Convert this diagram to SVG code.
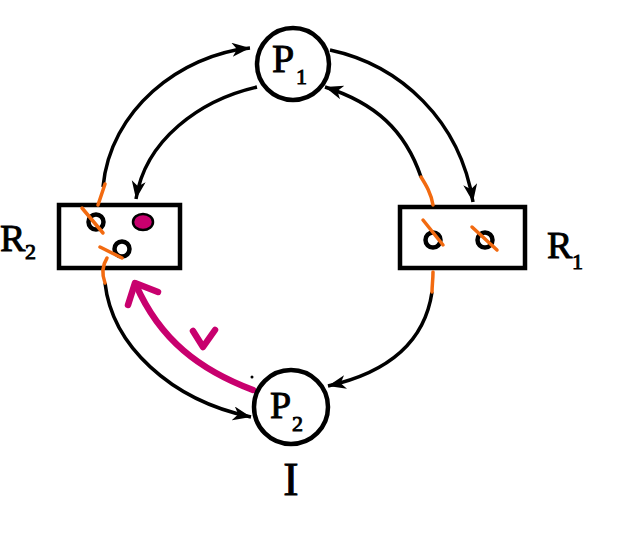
<svg xmlns="http://www.w3.org/2000/svg" width="618" height="538" viewBox="0 0 618 538">
<style>
.node{fill:#fff;stroke:#000;stroke-width:4.5}
.res{fill:none;stroke:#000;stroke-width:4.5}
.arc{fill:none;stroke:#000;stroke-width:3.5}
.or{fill:none;stroke:#F26A10;stroke-width:3.5;stroke-linecap:round}
.mg{fill:none;stroke:#C8006E;stroke-width:6.5;stroke-linecap:round;stroke-linejoin:round}
.lbl{font-family:"Liberation Serif","Times New Roman",serif;fill:#000;stroke:#000;stroke-width:0.9}
</style>
<defs>
<marker id="ah" markerUnits="userSpaceOnUse" markerWidth="20" markerHeight="16" refX="18" refY="7" orient="auto">
<path d="M0,0 L18,7 L0,14 L5,7 z" fill="#000"/>
</marker>
</defs>
<rect width="618" height="538" fill="#fff"/>
<g id="connectors">
<path class="arc" d="M103,187 C110,110 180,55 250,48" marker-end="url(#ah)"/>
<path class="arc" d="M257,87 C200,100 145,140 136,199" marker-end="url(#ah)"/>
<path class="arc" d="M330,50 C400,65 460,120 473,202" marker-end="url(#ah)"/>
<path class="arc" d="M421,177 C405,130 375,103 325,87" marker-end="url(#ah)"/>
<path class="arc" d="M432,292 C425,340 390,372 328,386" marker-end="url(#ah)"/>
<path class="arc" d="M105,283 C112,345 170,400 251,417" marker-end="url(#ah)"/>
<path class="mg" d="M253,390 C200,370 160,340 136,285"/>
<path class="mg" d="M128,305 L135,283 L158,292"/>
<path class="mg" d="M193,331 L203,347 L215,330"/>
<circle cx="252" cy="377" r="1.5" fill="#000"/>
</g>
<g id="P1">
<circle class="node" cx="293" cy="64" r="36"/>
<text class="lbl" x="272" y="72" font-size="40">P</text>
<text class="lbl" x="296" y="84" font-size="22">1</text>
</g>
<g id="P2">
<circle class="node" cx="291" cy="407" r="37"/>
<text class="lbl" x="270" y="418" font-size="38">P</text>
<text class="lbl" x="292" y="431" font-size="22">2</text>
<text class="lbl" x="291" y="495" font-size="46" text-anchor="middle" stroke-width="0.3">I</text>
</g>
<g id="R2">
<rect class="res" x="59" y="205" width="121" height="63"/>
<circle class="res" cx="96" cy="222" r="7.5"/>
<ellipse cx="143" cy="222" rx="10" ry="8" fill="#C8006E" stroke="#000" stroke-width="2.5"/>
<circle class="res" cx="122" cy="249" r="7.5"/>
<path class="or" d="M105,184 L98,205"/>
<path class="or" d="M82,208 L103,233"/>
<path class="or" d="M100,247 L122,258"/>
<path class="or" d="M107,258 C102,266 102,275 105,283"/>
<text class="lbl" x="0" y="251" font-size="38">R</text>
<text class="lbl" x="25" y="259" font-size="22">2</text>
</g>
<g id="R1">
<rect class="res" x="400" y="207" width="125" height="61"/>
<circle class="res" cx="433" cy="240" r="7.5"/>
<circle class="res" cx="485" cy="240" r="7.5"/>
<path class="or" d="M423,220 L443,245"/>
<path class="or" d="M472,227 L497,250"/>
<path class="or" d="M421,177 C426,185 431,193 433,205"/>
<path class="or" d="M433,272 C433,280 432,286 432,292"/>
<text class="lbl" x="547" y="258" font-size="38">R</text>
<text class="lbl" x="572" y="269" font-size="22">1</text>
</g>
</svg>
